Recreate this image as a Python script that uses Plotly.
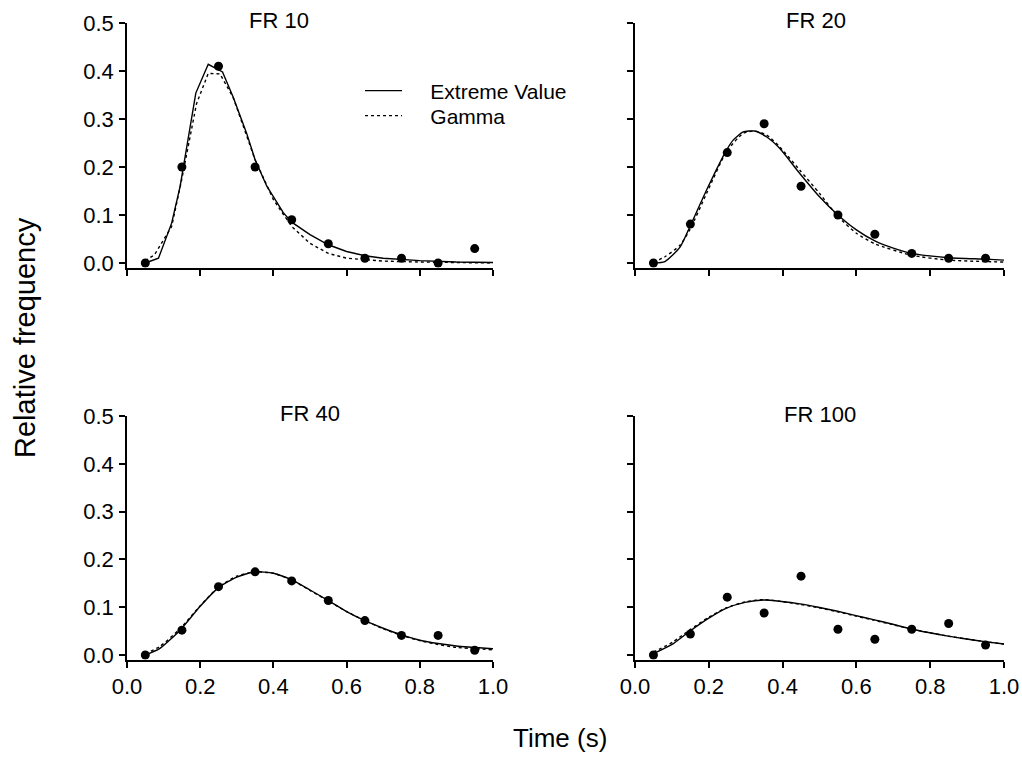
import plotly.graph_objects as go

# ---------------- data ----------------
bin_x = [0.05, 0.15, 0.25, 0.35, 0.45, 0.55, 0.65, 0.75, 0.85, 0.95]

panel_titles = ["FR 10", "FR 20", "FR 40", "FR 100"]

obs_fr10 = [0.0, 0.20, 0.41, 0.20, 0.09, 0.04, 0.01, 0.01, 0.0, 0.03]
obs_fr20 = [0.0, 0.081, 0.23, 0.29, 0.16, 0.10, 0.06, 0.02, 0.01, 0.01]
obs_fr40 = [0.0, 0.052, 0.143, 0.174, 0.155, 0.114, 0.072, 0.041, 0.041, 0.01]
obs_fr100 = [0.0, 0.044, 0.121, 0.088, 0.165, 0.054, 0.033, 0.054, 0.066, 0.021]

# Extreme Value fit (solid)
ev_x_fr10 = [0.05, 0.086, 0.122, 0.145, 0.188, 0.222, 0.261, 0.29, 0.327, 0.35, 0.382,
             0.427, 0.45, 0.5, 0.55, 0.6, 0.65, 0.7, 0.8, 0.9, 1.0]
ev_y_fr10 = [0.0, 0.01, 0.083, 0.159, 0.354, 0.414, 0.398, 0.346, 0.27, 0.215, 0.16,
             0.105, 0.085, 0.059, 0.038, 0.024, 0.015, 0.01, 0.005, 0.002, 0.001]
# Gamma fit (dotted)
ga_x_fr10 = [0.05, 0.075, 0.122, 0.149, 0.19, 0.222, 0.254, 0.29, 0.35, 0.4, 0.45,
             0.5, 0.55, 0.6, 0.7, 0.8, 1.0]
ga_y_fr10 = [0.005, 0.017, 0.076, 0.172, 0.332, 0.395, 0.394, 0.345, 0.215, 0.132, 0.076,
             0.041, 0.02, 0.01, 0.004, 0.002, 0.0]

ev_x_fr20 = [0.05, 0.081, 0.122, 0.149, 0.194, 0.248, 0.266, 0.293, 0.324, 0.356, 0.392,
             0.446, 0.5, 0.55, 0.6, 0.65, 0.7, 0.75, 0.85, 0.95, 1.0]
ev_y_fr20 = [0.0, 0.003, 0.033, 0.076, 0.152, 0.235, 0.256, 0.273, 0.275, 0.263, 0.239,
             0.187, 0.138, 0.10, 0.069, 0.046, 0.031, 0.02, 0.011, 0.008, 0.006]
ga_x_fr20 = [0.05, 0.081, 0.122, 0.149, 0.194, 0.248, 0.293, 0.324, 0.356, 0.392,
             0.446, 0.5, 0.55, 0.6, 0.65, 0.75, 0.85, 1.0]
ga_y_fr20 = [0.001, 0.013, 0.037, 0.07, 0.145, 0.232, 0.27, 0.275, 0.267, 0.242,
             0.194, 0.145, 0.097, 0.062, 0.04, 0.016, 0.006, 0.002]

ev_x_fr40 = [0.05, 0.09, 0.145, 0.2, 0.25, 0.3, 0.35, 0.4, 0.45, 0.5, 0.55, 0.6,
             0.65, 0.7, 0.75, 0.8, 0.85, 0.9, 1.0]
ev_y_fr40 = [0.0, 0.014, 0.052, 0.102, 0.141, 0.163, 0.174, 0.171, 0.157, 0.136, 0.114, 0.091,
             0.072, 0.056, 0.042, 0.031, 0.024, 0.019, 0.013]
ga_x_fr40 = [0.05, 0.09, 0.145, 0.2, 0.25, 0.3, 0.35, 0.4, 0.45, 0.5, 0.55, 0.6,
             0.65, 0.7, 0.75, 0.8, 0.85, 0.9, 1.0]
ga_y_fr40 = [0.003, 0.018, 0.055, 0.103, 0.142, 0.165, 0.174, 0.171, 0.157, 0.135, 0.113, 0.091,
             0.072, 0.055, 0.041, 0.03, 0.022, 0.016, 0.011]

ev_x_fr100 = [0.05, 0.104, 0.149, 0.2, 0.248, 0.298, 0.348, 0.397, 0.447, 0.497, 0.546,
              0.596, 0.646, 0.696, 0.745, 0.795, 0.845, 0.894, 0.948, 1.0]
ev_y_fr100 = [0.003, 0.024, 0.05, 0.077, 0.098, 0.110, 0.115, 0.112, 0.107, 0.10, 0.092,
              0.083, 0.074, 0.065, 0.055, 0.047, 0.04, 0.034, 0.028, 0.023]
ga_x_fr100 = [0.05, 0.104, 0.149, 0.2, 0.248, 0.298, 0.348, 0.397, 0.447, 0.497, 0.546,
              0.596, 0.646, 0.696, 0.745, 0.795, 0.845, 0.894, 0.948, 1.0]
ga_y_fr100 = [0.006, 0.028, 0.053, 0.079, 0.099, 0.111, 0.116, 0.112, 0.106, 0.099, 0.091,
              0.082, 0.073, 0.064, 0.055, 0.047, 0.04, 0.034, 0.028, 0.023]

x_ticks = [0.0, 0.2, 0.4, 0.6, 0.8, 1.0]
y_ticks = [0.0, 0.1, 0.2, 0.3, 0.4, 0.5]

legend_names = ["Extreme Value", "Gamma"]

# --------------- figure ---------------
FONT = "Liberation Sans, Arial, sans-serif"
W, H = 1022, 757
NBSP = "\u00a0" * 4

panels = [
    (obs_fr10, ev_x_fr10, ev_y_fr10, ga_x_fr10, ga_y_fr10, "linear"),
    (obs_fr20, ev_x_fr20, ev_y_fr20, ga_x_fr20, ga_y_fr20, "spline"),
    (obs_fr40, ev_x_fr40, ev_y_fr40, ga_x_fr40, ga_y_fr40, "spline"),
    (obs_fr100, ev_x_fr100, ev_y_fr100, ga_x_fr100, ga_y_fr100, "spline"),
]

xdomains = [(127 / W, 493 / W), (635 / W, 1004 / W)]
ydomains = [(1 - 267.8 / H, 1 - 23 / H), (1 - 659.8 / H, 1 - 416 / H)]

fig = go.Figure()
layout = {}
for i, (obs, evx, evy, gax, gay, shape) in enumerate(panels):
    row, col = divmod(i, 2)
    ax = "" if i == 0 else str(i + 1)
    xa, ya = "x" + ax, "y" + ax
    fig.add_trace(go.Scatter(x=evx, y=evy, mode="lines", xaxis=xa, yaxis=ya,
                             line=dict(color="black", width=1.4, shape=shape, smoothing=0.6),
                             name=NBSP + legend_names[0], showlegend=(i == 0),
                             legend="legend"))
    fig.add_trace(go.Scatter(x=gax, y=gay, mode="lines", xaxis=xa, yaxis=ya,
                             line=dict(color="black", width=1.4, dash="dot", shape=shape,
                                       smoothing=0.6),
                             name=NBSP + legend_names[1], showlegend=(i == 0),
                             legend="legend2"))
    fig.add_trace(go.Scatter(x=bin_x, y=obs, mode="markers", xaxis=xa, yaxis=ya,
                             marker=dict(color="black", size=9), showlegend=False))
    common = dict(showline=True, linecolor="black", linewidth=1.5, ticks="outside",
                  ticklen=6, tickwidth=1.5, tickcolor="black", showgrid=False,
                  zeroline=False, automargin=False,
                  tickfont=dict(family=FONT, size=22, color="black"),
                  tickformat=".1f")
    layout["xaxis" + ax] = dict(common, domain=xdomains[col], range=[0, 1.0],
                                tickvals=x_ticks, anchor=ya,
                                showticklabels=(row == 1))
    layout["yaxis" + ax] = dict(common, domain=ydomains[row], range=[-0.01, 0.5],
                                tickvals=y_ticks, anchor=xa,
                                showticklabels=(col == 0), ticklabelstandoff=1)

fig.update_layout(**layout)

title_pos = [(0.415, 1 - 20 / H), (0.49, 1 - 20 / H), (0.5, 1 - 413 / H), (0.5, 1 - 414 / H)]
annotations = []
for i, t in enumerate(panel_titles):
    ax = "" if i == 0 else str(i + 1)
    annotations.append(dict(text=t, xref="x" + ax, x=title_pos[i][0], yref="paper",
                            y=title_pos[i][1], showarrow=False, xanchor="center",
                            yanchor="middle",
                            font=dict(family=FONT, size=22, color="black")))
annotations.append(dict(text="Relative frequency", xref="paper", yref="paper",
                        x=25 / W, y=1 - 338 / H, textangle=-90, showarrow=False,
                        xanchor="center", yanchor="middle",
                        font=dict(family=FONT, size=29, color="black")))
annotations.append(dict(text="Time (s)", xref="paper", yref="paper",
                        x=560 / W, y=1 - 738 / H, showarrow=False,
                        xanchor="center", yanchor="middle",
                        font=dict(family=FONT, size=26, color="black")))

leg_common = dict(xanchor="left", yanchor="middle", bgcolor="rgba(0,0,0,0)",
                  itemwidth=37, font=dict(family=FONT, size=21, color="black"))
fig.update_layout(
    width=W, height=H,
    margin=dict(l=0, r=0, t=0, b=0),
    paper_bgcolor="white", plot_bgcolor="white",
    annotations=annotations,
    legend=dict(leg_common, x=360 / W, y=1 - 91 / H),
    legend2=dict(leg_common, x=360 / W, y=1 - 116 / H),
)

fig.write_html("out.html")
